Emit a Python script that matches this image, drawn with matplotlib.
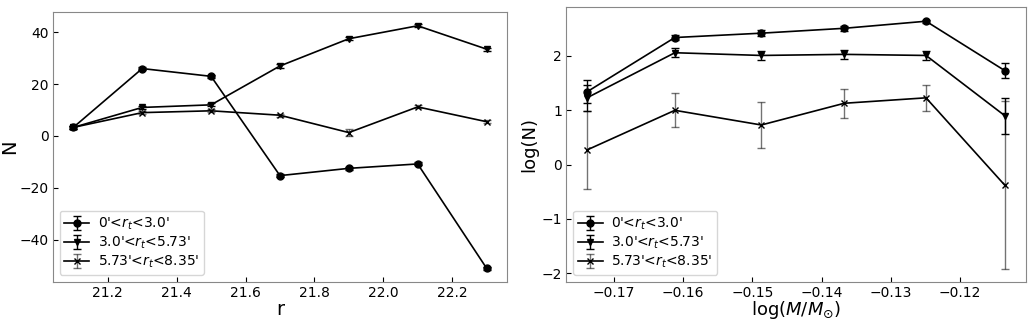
import matplotlib
matplotlib.use('Agg')
import matplotlib.pyplot as plt

# left panel: counts vs r magnitude
r = [21.1, 21.3, 21.5, 21.7, 21.9, 22.1, 22.3]
n1 = [3.3, 26.0, 23.0, -15.3, -12.5, -10.8, -51.0]
n2 = [3.3, 11.0, 12.0, 27.0, 37.5, 42.5, 33.5]
n3 = [3.3, 9.0, 9.7, 8.0, 1.3, 11.2, 5.5]
e1 = [0.6, 0.6, 0.6, 0.6, 0.6, 0.6, 0.6]
e2 = [0.6, 0.6, 0.6, 0.6, 0.6, 0.6, 0.6]
e3 = [0.6, 0.6, 0.6, 0.6, 1.2, 0.6, 0.6]

# right panel: log N vs log mass
logm = [-0.1739, -0.1612, -0.1487, -0.1367, -0.1249, -0.1135]
logn1 = [1.34, 2.34, 2.42, 2.51, 2.64, 1.73]
logn2 = [1.23, 2.06, 2.01, 2.03, 2.01, 0.90]
logn3 = [0.27, 1.00, 0.73, 1.13, 1.23, -0.38]
le1 = [0.21, 0.05, 0.05, 0.05, 0.03, 0.14]
le2 = [0.24, 0.08, 0.08, 0.08, 0.08, 0.33]
le3 = [0.72, 0.31, 0.43, 0.27, 0.245, 1.55]

labels = ["0'<$r_t$<3.0'", "3.0'<$r_t$<5.73'", "5.73'<$r_t$<8.35'"]

fig = plt.figure(figsize=(10.33, 3.23), dpi=100)
ax1 = fig.add_axes([0.051, 0.127, 0.440, 0.836])
ax2 = fig.add_axes([0.548, 0.127, 0.445, 0.851])


def draw(ax, x, ys, es):
    styles = [('o', 1.0), ('v', 1.0), ('x', 0.55)]
    for y, e, lab, (m, a) in zip(ys, es, labels, styles):
        eb = ax.errorbar(x, y, yerr=e, fmt='-', marker=m, color='black',
                         markersize=5, linewidth=1.2, capsize=3,
                         elinewidth=1.0, label=lab)
        for line in eb[1]:
            line.set_alpha(a)
        for line in eb[2]:
            line.set_alpha(a)
    ax.tick_params(direction='in', labelsize=10, pad=3)
    for s in ax.spines.values():
        s.set_color('#888888')
    ax.legend(loc='lower left', fontsize=10, handlelength=1.8,
              handletextpad=0.6, labelspacing=0.2, borderpad=0.35)


draw(ax1, r, [n1, n2, n3], [e1, e2, e3])
ax1.set_xlabel('r', fontsize=14, labelpad=0)
ax1.set_ylabel('N', fontsize=14, labelpad=0)
ax1.set_xticks([21.2, 21.4, 21.6, 21.8, 22.0, 22.2])
ax1.set_yticks([-40, -20, 0, 20, 40])

draw(ax2, logm, [logn1, logn2, logn3], [le1, le2, le3])
ax2.set_xlabel(r'log($M/M_{\odot}$)', fontsize=13, labelpad=-1)
ax2.set_ylabel('log(N)', fontsize=13, labelpad=2)
ax2.set_xticks([-0.17, -0.16, -0.15, -0.14, -0.13, -0.12])
ax2.set_yticks([-2, -1, 0, 1, 2])

fig.savefig('out.png', dpi=100)
